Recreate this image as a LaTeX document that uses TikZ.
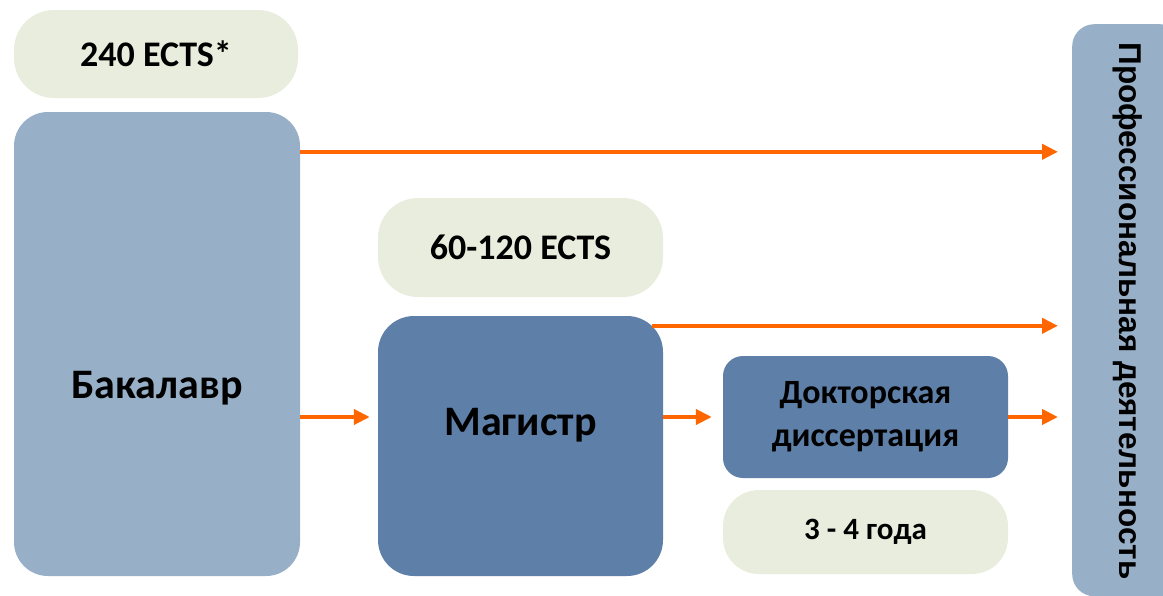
\documentclass[tikz,border=0pt]{standalone}
\usepackage{fontspec}
\setmainfont{Carlito}
\newfontfamily\arialb{Liberation Sans}
\usetikzlibrary{arrows.meta,calc}
\definecolor{pill}{HTML}{E9EDDD}
\definecolor{light}{HTML}{98AFC8}
\definecolor{dark}{HTML}{5E7FA8}
\definecolor{arr}{HTML}{FF6600}
\tikzset{
  pillbox/.style={fill=pill, rounded corners=40pt, inner sep=0pt, font=\bfseries},
  lightbox/.style={fill=light, rounded corners=34pt, inner sep=0pt, font=\bfseries},
  darkbox/.style={fill=dark, rounded corners=30pt, inner sep=0pt, font=\bfseries},
  flow/.style={draw=arr, line width=4pt, -{Triangle[length=16pt,width=15pt]}},
  lbl/.style={inner sep=0pt, font=\bfseries\fontsize{42}{46}\selectfont}
}
\begin{document}
\begin{tikzpicture}[x=1pt,y=-1pt]
\useasboundingbox (0,0) rectangle (1163,595);
% pills
\node[pillbox, minimum width=284pt, minimum height=88pt, font=\bfseries\fontsize{36}{40}\selectfont] (e240) at (156,54) {240 ECTS*};
\node[pillbox, minimum width=285pt, minimum height=99pt, font=\bfseries\fontsize{36}{40}\selectfont] (e60) at (520.5,247.5) {60-120 ECTS};
\node[pillbox, rounded corners=36pt, minimum width=285pt, minimum height=84pt, font=\bfseries\fontsize{31}{34}\selectfont] (yrs) at (865.5,532) {3 - 4 года};
% boxes
\node[lightbox, minimum width=286pt, minimum height=464pt] (bak) at (157,344) {};
\node[lbl] (baktxt) at (157,388) {Бакалавр};
\node[darkbox, rounded corners=36pt, minimum width=285pt, minimum height=260pt] (mag) at (520.5,446) {};
\node[lbl] (magtxt) at (520.5,425) {Магистр};
\node[darkbox, rounded corners=20pt, minimum width=285pt, minimum height=122pt, align=center, font=\bfseries\fontsize{34}{43}\selectfont] (dok) at (865.5,417) {Докторская\\диссертация};
\node[lightbox, rounded corners=22pt, minimum width=110pt, minimum height=572pt, anchor=north west] (prof) at (1072,24) {};
\node[rotate=-90, font=\arialb\bfseries\fontsize{31.5}{34}\selectfont] (proftxt) at (1128,311) {Профессиональная деятельность};
% arrows
\coordinate (a1) at ($(bak.north east)+(0,40)$);
\draw[flow, shorten >=14pt] (a1) -- (prof.west |- a1);
\coordinate (a2) at ($(mag.north east)+(-11,10)$);
\draw[flow, shorten >=14pt] (a2) -- (prof.west |- a2);
\coordinate (a3) at (bak.east |- dok.center);
\draw[flow, shorten >=8pt] (a3) -- (mag.west |- a3);
\coordinate (a4) at (mag.east |- dok.center);
\draw[flow, shorten >=11pt] (a4) -- (dok.west);
\draw[flow, shorten >=14pt] (dok.east) -- (prof.west |- dok.east);
\end{tikzpicture}
\end{document}
